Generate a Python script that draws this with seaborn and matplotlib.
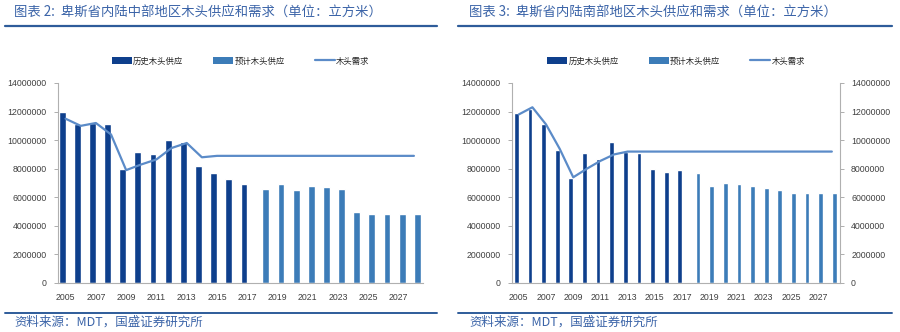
import numpy as np
import pandas as pd
import matplotlib
matplotlib.use("Agg")
import matplotlib.pyplot as plt
from matplotlib.lines import Line2D
from matplotlib.patches import Patch
import seaborn as sns

sns.set_theme(style="white")
plt.rcParams['font.family'] = ['Noto Sans CJK SC', 'DejaVu Sans']

years = [str(y) for y in range(2005, 2029)]
n_hist = 13  # 2005-2017 historical, 2018-2028 projected

# Panel 1: central interior
supply_central = [12000000, 11100000, 11200000, 11100000, 8000000, 9200000, 9050000,
                  10000000, 9900000, 8200000, 7700000, 7300000, 6900000,
                  6600000, 6950000, 6500000, 6800000, 6700000, 6600000, 5000000,
                  4800000, 4800000, 4800000, 4800000]
demand_central = [11500000, 11000000, 11200000, 10400000, 7900000, 8300000, 8650000,
                  9450000, 9800000, 8800000, 8900000, 8900000, 8900000,
                  8900000, 8900000, 8900000, 8900000, 8900000, 8900000, 8900000,
                  8900000, 8900000, 8900000, 8900000]

# Panel 2: southern interior
supply_south = [11900000, 12200000, 11150000, 9300000, 7350000, 9100000, 8700000,
                9900000, 9150000, 9100000, 8000000, 7800000, 7900000,
                7700000, 6780000, 7000000, 6900000, 6780000, 6660000, 6500000,
                6300000, 6300000, 6300000, 6300000]
demand_south = [11800000, 12300000, 11100000, 9400000, 7400000, 8000000, 8550000,
                9000000, 9200000, 9200000, 9200000, 9200000, 9200000,
                9200000, 9200000, 9200000, 9200000, 9200000, 9200000, 9200000,
                9200000, 9200000, 9200000, 9200000]

labels = ["历史木头供应", "预计木头供应", "木头需求"]
titles = ["图表 2:  卑斯省内陆中部地区木头供应和需求（单位：立方米）",
          "图表 3:  卑斯省内陆南部地区木头供应和需求（单位：立方米）"]
source = "资料来源：MDT，国盛证券研究所"
yticks = [0, 2000000, 4000000, 6000000, 8000000, 10000000, 12000000, 14000000]

C_HIST = "#0e3f8c"
C_PROJ = "#3c7cb8"
C_LINE = "#5b8bc8"
C_TITLE = "#3b64a8"
C_RULE = "#2e5c9a"
NUMFONT = ['Liberation Sans Narrow', 'Liberation Sans', 'DejaVu Sans']
NUMSIZE = 6.3

fig = plt.figure(figsize=(9, 3.32), dpi=100)
W, H = 900, 332


def make_df(supply):
    kinds = [labels[0] if i < n_hist else labels[1] for i in range(len(years))]
    return pd.DataFrame({"year": years, "value": supply, "kind": kinds})


def panel(rect_px, supply, demand, width, twin):
    x0, x1, ytop, ybot = rect_px
    ax = fig.add_axes([x0 / W, (H - ybot) / H, (x1 - x0) / W, (ybot - ytop) / H])
    df = make_df(supply)
    sns.barplot(data=df, x="year", y="value", hue="kind", order=years,
                hue_order=labels[:2], palette=[C_HIST, C_PROJ], dodge=True,
                width=width, saturation=1, ax=ax, legend=False)
    sns.lineplot(x=np.arange(len(years)), y=demand, color=C_LINE, linewidth=1.6,
                 ax=ax, legend=False)
    ax.set_xlim(-0.5, len(years) - 0.4)
    ax.set_ylim(0, 14000000)
    ax.set_yticks(yticks)
    ax.set_yticklabels([str(v) for v in yticks], family=NUMFONT, fontsize=NUMSIZE, color="#404040")
    ax.set_xticks(np.arange(0, len(years), 2))
    ax.set_xticklabels(years[::2], family=NUMFONT, fontsize=NUMSIZE, color="#404040")
    ax.set_xlabel("")
    ax.set_ylabel("")
    ax.tick_params(axis="x", length=0, pad=7)
    ax.tick_params(axis="y", length=3, width=0.6, color="#a0a0a0", pad=5, left=True)
    for s in ["top", "right"]:
        ax.spines[s].set_visible(False)
    for s in ["left", "bottom"]:
        ax.spines[s].set_color("#b0b0b0")
        ax.spines[s].set_linewidth(0.8)
    ax.grid(False)
    if twin:
        ax2 = ax.twinx()
        ax2.set_ylim(0, 14000000)
        ax2.set_yticks(yticks)
        ax2.set_yticklabels([str(v) for v in yticks], family=NUMFONT, fontsize=NUMSIZE, color="#404040")
        ax2.tick_params(axis="y", length=3, width=0.6, color="#a0a0a0", pad=5, right=True)
        for s in ["top", "left", "bottom"]:
            ax2.spines[s].set_visible(False)
        ax2.spines["right"].set_color("#b0b0b0")
        ax2.spines["right"].set_linewidth(0.8)
        ax2.grid(False)
    handles = [Patch(facecolor=C_HIST, edgecolor="none"),
               Patch(facecolor=C_PROJ, edgecolor="none"),
               Line2D([0], [0], color=C_LINE, linewidth=1.6)]
    cx = (x0 + x1) / 2 / W
    fig.legend(handles, labels, loc="center", bbox_to_anchor=(cx, (H - 61) / H),
               ncol=3, frameon=False, fontsize=6, handlelength=2.4, handleheight=1.0,
               columnspacing=3.6, handletextpad=0.15)
    return ax


def decorate(xl, xr, title, tx):
    fig.text(tx / W, (H - 13) / H, title, color=C_TITLE, fontsize=9.6, va="center",
             ha="left", style="italic")
    fig.add_artist(Line2D([xl / W, xr / W], [(H - 26) / H] * 2, color=C_RULE,
                          linewidth=1.6, transform=fig.transFigure))
    fig.add_artist(Line2D([xl / W, xr / W], [(H - 313) / H] * 2, color=C_RULE,
                          linewidth=1.4, transform=fig.transFigure))
    fig.text(tx / W, (H - 322) / H, source, color=C_TITLE, fontsize=9, va="center",
             ha="left", style="italic")


panel((58, 423, 83, 283), supply_central, demand_central, 0.9, False)
panel((512, 840, 83, 283), supply_south, demand_south, 0.7, True)
decorate(5, 437, titles[0], 14)
decorate(458, 892, titles[1], 469)

fig.savefig("out.png", dpi=100, facecolor="white")
